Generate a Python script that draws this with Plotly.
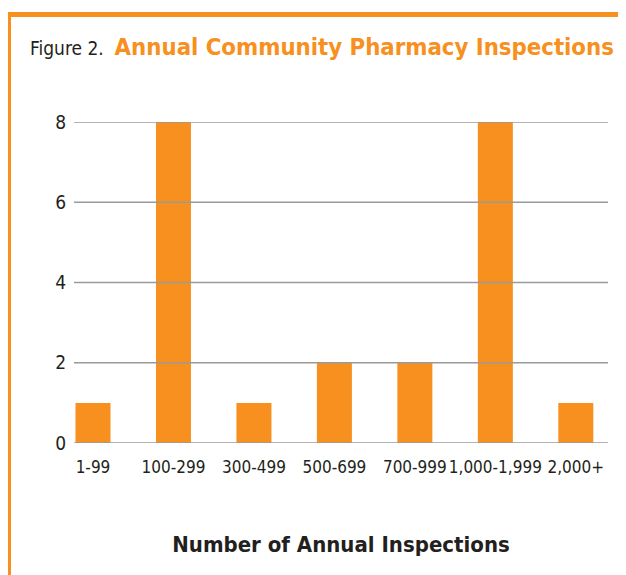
import plotly.graph_objects as go

# data
categories = ["1-99", "100-299", "300-499", "500-699", "700-999", "1,000-1,999", "2,000+"]
counts = [1, 8, 1, 2, 2, 8, 1]
y_ticks = [0, 2, 4, 6, 8]

ORANGE = "#F7901E"
GRID = "#9a9a9a"
FONT = "Liberation Sans Narrow, DejaVu Sans Condensed, Roboto, Arial"

# the page puts the plot 8px in from the corner, so the figure is sized to fit
OFF = 8
W, H = 626 - OFF, 575 - OFF
ML, MR, MT, MB = 74 - OFF, 18, 122 - OFF, 132
pw, ph = W - ML - MR, H - MT - MB


def px_x(px):
    return (px - OFF - ML) / pw


def px_y(py):
    return (H + OFF - MB - py) / ph


fig = go.Figure(go.Bar(x=list(range(len(categories))), y=counts, width=0.435,
                       marker=dict(color=ORANGE, line_width=0)))

shapes = []
# gridlines drawn over the bars, like the original
for t in y_ticks:
    shapes.append(dict(type="line", xref="paper", yref="y", x0=0, x1=1, y0=t, y1=t,
                       line=dict(color=GRID, width=1.3), layer="above"))
# orange frame at top and left
shapes.append(dict(type="rect", xref="paper", yref="paper",
                   x0=px_x(6), x1=px_x(626 + 5), y0=px_y(17), y1=px_y(12),
                   fillcolor=ORANGE, line_width=0))
shapes.append(dict(type="rect", xref="paper", yref="paper",
                   x0=px_x(6), x1=px_x(11), y0=px_y(575 + 5), y1=px_y(12),
                   fillcolor=ORANGE, line_width=0))

fig.update_layout(
    width=W, height=H,
    margin=dict(l=ML, r=MR, t=MT, b=MB, autoexpand=False),
    paper_bgcolor="white", plot_bgcolor="white",
    showlegend=False,
    shapes=shapes,
    title=dict(
        text="Figure 2.  <span style='color:%s;font-size:23.7px'><b>Annual Community Pharmacy Inspections</b></span>" % ORANGE,
        x=(30 - OFF) / W, xanchor="left", xref="container",
        y=1 - (48 - OFF) / H, yanchor="middle", yref="container",
        font=dict(family=FONT, size=19, color="#231f20"),
    ),
    xaxis=dict(
        tickmode="array", tickvals=list(range(len(categories))), ticktext=categories,
        range=[-0.236, 6.4], showgrid=False, zeroline=False, showline=False,
        ticks="", ticklabelstandoff=12, tickangle=0, automargin=False,
        tickfont=dict(family=FONT, size=17, color="#231f20"),
        title=dict(text="<b>Number of Annual Inspections</b>", standoff=60,
                   font=dict(family=FONT, size=22, color="#231f20")),
    ),
    yaxis=dict(
        range=[0, 8], tickvals=y_ticks, showgrid=False, zeroline=False, showline=False,
        ticks="", ticklabelstandoff=7, automargin=False,
        tickfont=dict(family=FONT, size=19, color="#231f20"),
    ),
)

fig.write_html("out.html")
